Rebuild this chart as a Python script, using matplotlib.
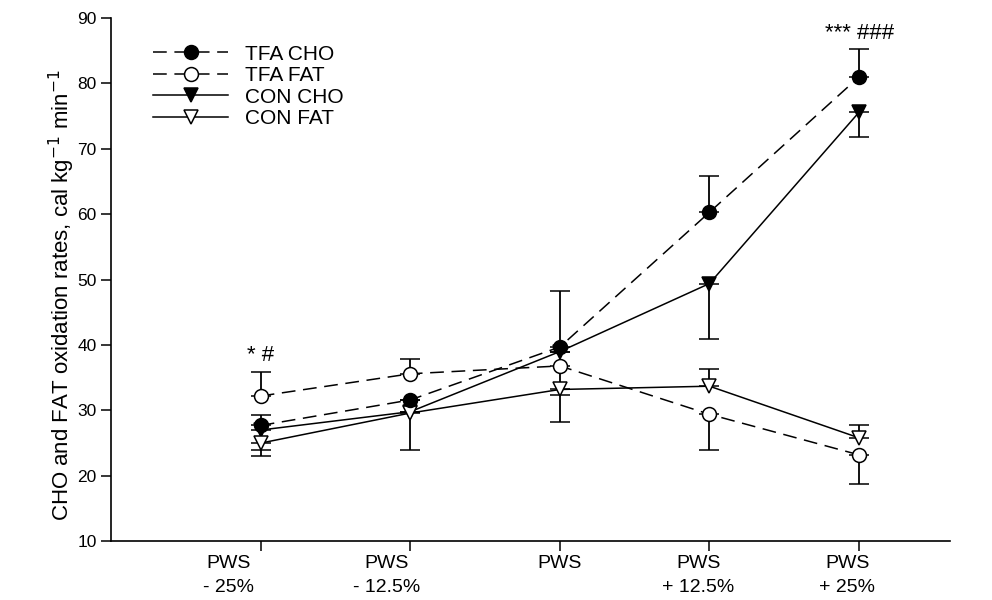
import numpy as np
import matplotlib.pyplot as plt
from matplotlib.transforms import ScaledTranslation

plt.rcParams['font.family'] = ['Liberation Sans', 'DejaVu Sans']

# categorias del eje x
categorias = ['PWS\n- 25%', 'PWS\n- 12.5%', 'PWS', 'PWS\n+ 12.5%', 'PWS\n+ 25%']
series = ['TFA CHO', 'TFA FAT', 'CON CHO', 'CON FAT']

# valores medios
tfa_cho = [27.7, 31.6, 39.7, 60.3, 81.0]
tfa_fat = [32.2, 35.6, 36.8, 29.4, 23.2]
con_cho = [27.0, 29.8, 39.0, 49.4, 75.6]
con_fat = [25.0, 29.6, 33.2, 33.7, 25.8]

# barras de error (abajo, arriba)
tfa_cho_err = [[0, 0, 0, 0, 0], [1.6, 0, 8.6, 5.5, 4.2]]
tfa_fat_err = [[0, 0, 4.4, 5.4, 4.4], [3.6, 2.2, 0, 0, 0]]
con_cho_err = [[3.9, 0, 0, 8.5, 3.8], [0, 0, 0, 0, 0]]
con_fat_err = [[1.0, 5.7, 5.0, 0, 0], [0, 0, 0, 2.7, 2.0]]

x = np.arange(1, len(categorias) + 1)

fig = plt.figure(figsize=(9.92, 6.0), dpi=100)
ax = fig.add_axes([0.112, 0.098, 0.846, 0.872])

estilo = dict(color='black', lw=1.1, markersize=10, capsize=7.5,
              elinewidth=1.3, capthick=1.3, markeredgewidth=1.1)

c1 = ax.errorbar(x, tfa_cho, yerr=tfa_cho_err, marker='o', mfc='black',
                 dashes=(9, 5), zorder=4, **estilo)
c2 = ax.errorbar(x, tfa_fat, yerr=tfa_fat_err, marker='o', mfc='white',
                 dashes=(9, 5), zorder=3, **estilo)
c3 = ax.errorbar(x, con_cho, yerr=con_cho_err, marker='v', mfc='black',
                 ls='-', zorder=3, **estilo)
c4 = ax.errorbar(x, con_fat, yerr=con_fat_err, marker='v', mfc='white',
                 ls='-', zorder=3, **estilo)

# marcas de significancia
ax.text(x[0], 38.4, '* #', ha='center', va='center', fontsize=16)
ax.text(x[4], 87.6, '*** ###', ha='center', va='center', fontsize=16)

ax.set_xlim(0, 5.61)
ax.set_ylim(10, 90)
ax.set_yticks(np.arange(10, 91, 10))
ax.set_xticks(x)
ax.set_xticklabels(categorias, fontsize=14, linespacing=1.5)
ax.tick_params(axis='y', direction='out', length=7, width=1.1, labelsize=12.5)
ax.tick_params(axis='x', direction='out', length=7, width=1.1, pad=3)

# desplazamiento de las etiquetas como en el original
despl = [-32, -24, 0, -11, -12]
for lab, d in zip(ax.get_xticklabels(), despl):
    lab.set_transform(lab.get_transform() + ScaledTranslation(d / 100, 0, fig.dpi_scale_trans))
    lab.set_multialignment('center')

for s in ['top', 'right']:
    ax.spines[s].set_visible(False)
for s in ['left', 'bottom']:
    ax.spines[s].set_linewidth(1.2)

ax.set_ylabel('CHO and FAT oxidation rates, cal kg$^{-1}$ min$^{-1}$', fontsize=16)
ax.yaxis.set_label_coords(-0.041, 0.47)

ax.legend([c1[0], c2[0], c3[0], c4[0]], series, loc='upper left',
          bbox_to_anchor=(0.04, 0.965), frameon=False, fontsize=15,
          handlelength=3.6, labelspacing=0.12, borderaxespad=0,
          handletextpad=0.8)

plt.savefig('out.png', dpi=100)
